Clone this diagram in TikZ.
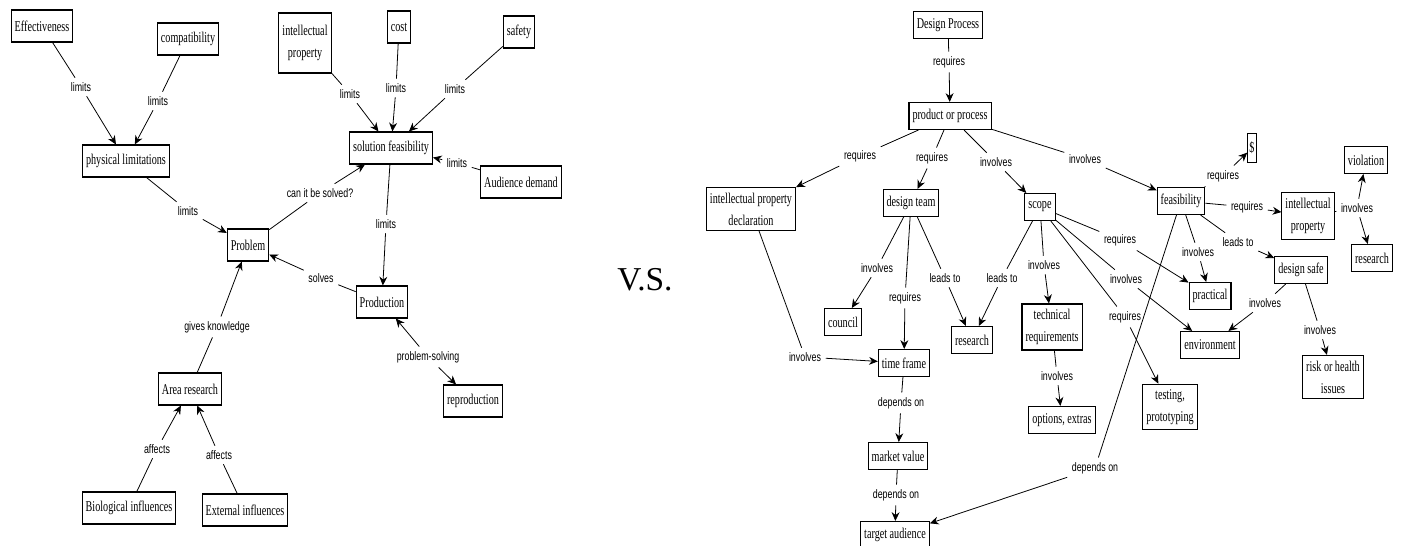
\documentclass[tikz,border=0pt]{standalone}
\usepackage{fontspec}
\usepackage{tikz}
\usetikzlibrary{positioning, arrows.meta}
\newfontfamily\boxfont[FakeStretch=0.68]{Liberation Serif}
\newfontfamily\phrasefont[FakeStretch=0.72]{Liberation Sans}
\newfontfamily\vsfont{Liberation Serif}
\tikzset{
  concept/.style={draw, line width=0.6pt, fill=white, align=center, inner xsep=2pt, inner ysep=3pt, minimum height=0.54cm, font=\boxfont\fontsize{8.5}{12.5}\selectfont},
  tall/.style={minimum height=0.64cm},
  phrase/.style={fill=white, inner sep=2.5pt, font=\phrasefont\fontsize{7}{8}\selectfont},
  link/.style={line width=0.45pt},
  arr/.style={line width=0.45pt, -{Stealth[length=5pt,width=4.5pt]}}}

\begin{document}
\begin{tikzpicture}[x=0.02cm, y=-0.02cm]
	\useasboundingbox (0,0) rectangle (1402,546);
	% left map
	\node[concept, tall] (eff) at (42,26) {Effectiveness};
	\node[concept, tall] (compat) at (188,39) {compatibility};
	\node[concept, tall] (phys) at (126,161) {physical limitations};
	\node[concept, minimum height=1.2cm] (ipL) at (305,43) {intellectual\\property};
	\node[concept, tall] (cost) at (399,27) {cost};
	\node[concept, tall] (safety) at (519,32) {safety};
	\node[concept, tall] (solfeas) at (391,148) {solution feasibility};
	\node[concept, tall] (audience) at (521,182) {Audience demand};
	\node[concept, tall] (problem) at (248,245) {Problem};
	\node[concept, tall] (production) at (382,302) {Production};
	\node[concept, tall] (reprod) at (473,401) {reproduction};
	\node[concept, tall] (area) at (190,389) {Area research};
	\node[concept, tall] (bio) at (129,508) {Biological influences};
	\node[concept, tall] (ext) at (245,510) {External influences};

	\node[phrase] (lim1) at (81,87) {limits};
	\node[phrase] (lim2) at (158,101) {limits};
	\node[phrase] (lim3) at (188,211) {limits};
	\node[phrase] (lim4) at (350,94) {limits};
	\node[phrase] (lim5) at (396,88) {limits};
	\node[phrase] (lim6) at (455,89) {limits};
	\node[phrase] (lim7) at (457,163) {limits};
	\node[phrase] (lim8) at (386,224) {limits};
	\node[phrase] (solved) at (320,193) {can it be solved?};
	\node[phrase] (solves) at (321,278) {solves};
	\node[phrase] (psolv) at (428,357) {problem-solving};
	\node[phrase] (know) at (217,327) {gives knowledge};
	\node[phrase] (aff1) at (157,449) {affects};
	\node[phrase] (aff2) at (219,455) {affects};

	\draw[link] (eff) -- (lim1); \draw[arr] (lim1) -- (phys);
	\draw[link] (compat) -- (lim2); \draw[arr] (lim2) -- (phys);
	\draw[link] (phys) -- (lim3); \draw[arr] (lim3) -- (problem);
	\draw[link] (ipL) -- (lim4); \draw[arr] (lim4) -- (solfeas);
	\draw[link] (cost) -- (lim5); \draw[arr] (lim5) -- (solfeas);
	\draw[link] (safety) -- (lim6); \draw[arr] (lim6) -- (solfeas);
	\draw[link] (audience) -- (lim7); \draw[arr] (lim7) -- (solfeas);
	\draw[link] (solfeas) -- (lim8); \draw[arr] (lim8) -- (production);
	\draw[link] (problem) -- (solved); \draw[arr] (solved) -- (solfeas);
	\draw[link] (production) -- (solves); \draw[arr] (solves) -- (problem);
	\draw[arr] (psolv) -- (production); \draw[arr] (psolv) -- (reprod);
	\draw[link] (area) -- (know); \draw[arr] (know) -- (problem);
	\draw[link] (bio) -- (aff1); \draw[arr] (aff1) -- (area);
	\draw[link] (ext) -- (aff2); \draw[arr] (aff2) -- (area);

	\node[font=\vsfont\fontsize{19}{22}\selectfont] (vs) at (645,280) {V.S.};

	% right map
	\node[concept] (dproc) at (948,25) {Design Process};
	\node[concept] (prodproc) at (950,116) {product or process};
	\node[concept] (ipdecl) at (751,209) {intellectual property\\declaration};
	\node[concept] (dteam) at (911,203) {design team};
	\node[concept] (scope) at (1040,207) {scope};
	\node[concept] (feas) at (1181,201) {feasibility};
	\node[concept, inner xsep=1pt, minimum height=0.58cm] (dollar) at (1252,148) {\$};
	\node[concept] (violation) at (1366,160) {violation};
	\node[concept] (ipR) at (1308,216) {intellectual\\property};
	\node[concept] (researchR) at (1372,258) {research};
	\node[concept] (dsafe) at (1301,270) {design safe};
	\node[concept] (practical) at (1210,296) {practical};
	\node[concept] (environ) at (1210,345) {environment};
	\node[concept] (risk) at (1333,377) {risk or health\\issues};
	\node[concept] (testing) at (1170,407) {testing,\\prototyping};
	\node[concept] (options) at (1062,420) {options, extras};
	\node[concept] (techreq) at (1052,327) {technical\\requirements};
	\node[concept] (researchM) at (972,340) {research};
	\node[concept] (council) at (843,322) {council};
	\node[concept] (tframe) at (904,363) {time frame};
	\node[concept] (mvalue) at (898,456) {market value};
	\node[concept] (taudience) at (895,535) {target audience};

	\node[phrase] (req1) at (949,62) {requires};
	\node[phrase] (req2) at (860,156) {requires};
	\node[phrase] (req3) at (932,158) {requires};
	\node[phrase] (inv1) at (996,162) {involves};
	\node[phrase] (inv2) at (1085,159) {involves};
	\node[phrase] (inv3) at (877,268) {involves};
	\node[phrase] (req4) at (905,298) {requires};
	\node[phrase] (lead1) at (945,278) {leads to};
	\node[phrase] (lead2) at (1002,278) {leads to};
	\node[phrase] (inv4) at (1044,265) {involves};
	\node[phrase] (inv5) at (1057,376) {involves};
	\node[phrase] (req5) at (1120,240) {requires};
	\node[phrase] (inv6) at (1126,279) {involves};
	\node[phrase] (req6) at (1125,317) {requires};
	\node[phrase] (req7) at (1223,176) {requires};
	\node[phrase] (req8) at (1247,207) {requires};
	\node[phrase] (inv7) at (1198,252) {involves};
	\node[phrase] (lead3) at (1238,242) {leads to};
	\node[phrase] (inv8) at (1357,208) {involves};
	\node[phrase] (inv9) at (1265,303) {involves};
	\node[phrase] (inv10) at (1320,330) {involves};
	\node[phrase] (inv11) at (805,357) {involves};
	\node[phrase] (dep1) at (901,403) {depends on};
	\node[phrase] (dep2) at (896,495) {depends on};
	\node[phrase] (dep3) at (1095,468) {depends on};

	\draw[link] (dproc) -- (req1); \draw[arr] (req1) -- (prodproc);
	\draw[link] (prodproc) -- (req2); \draw[arr] (req2) -- (ipdecl);
	\draw[link] (prodproc) -- (req3); \draw[arr] (req3) -- (dteam);
	\draw[link] (prodproc) -- (inv1); \draw[arr] (inv1) -- (scope);
	\draw[link] (prodproc) -- (inv2); \draw[arr] (inv2) -- (feas);
	\draw[link] (dteam) -- (inv3); \draw[arr] (inv3) -- (council);
	\draw[link] (dteam) -- (req4); \draw[arr] (req4) -- (tframe);
	\draw[link] (dteam) -- (lead1); \draw[arr] (lead1) -- (researchM);
	\draw[link] (scope) -- (lead2); \draw[arr] (lead2) -- (researchM);
	\draw[link] (scope) -- (inv4); \draw[arr] (inv4) -- (techreq);
	\draw[link] (techreq) -- (inv5); \draw[arr] (inv5) -- (options);
	\draw[link] (scope) -- (req5); \draw[arr] (req5) -- (practical);
	\draw[link] (scope) -- (inv6); \draw[arr] (inv6) -- (environ);
	\draw[link] (scope) -- (req6); \draw[arr] (req6) -- (testing);
	\draw[link] (feas) -- (req7); \draw[arr] (req7) -- (dollar);
	\draw[link] (feas) -- (req8); \draw[arr] (req8) -- (ipR);
	\draw[link] (feas) -- (inv7); \draw[arr] (inv7) -- (practical);
	\draw[link] (feas) -- (lead3); \draw[arr] (lead3) -- (dsafe);
	\draw[link] (ipR) -- (inv8); \draw[arr] (inv8) -- (violation); \draw[arr] (inv8) -- (researchR);
	\draw[link] (dsafe) -- (inv9); \draw[arr] (inv9) -- (environ);
	\draw[link] (dsafe) -- (inv10); \draw[arr] (inv10) -- (risk);
	\draw[link] (ipdecl) -- (inv11); \draw[arr] (inv11) -- (tframe);
	\draw[link] (tframe) -- (dep1); \draw[arr] (dep1) -- (mvalue);
	\draw[link] (mvalue) -- (dep2); \draw[arr] (dep2) -- (taudience);
	\draw[link] (feas) -- (dep3); \draw[arr] (dep3) -- (taudience);
\end{tikzpicture}
\end{document}
